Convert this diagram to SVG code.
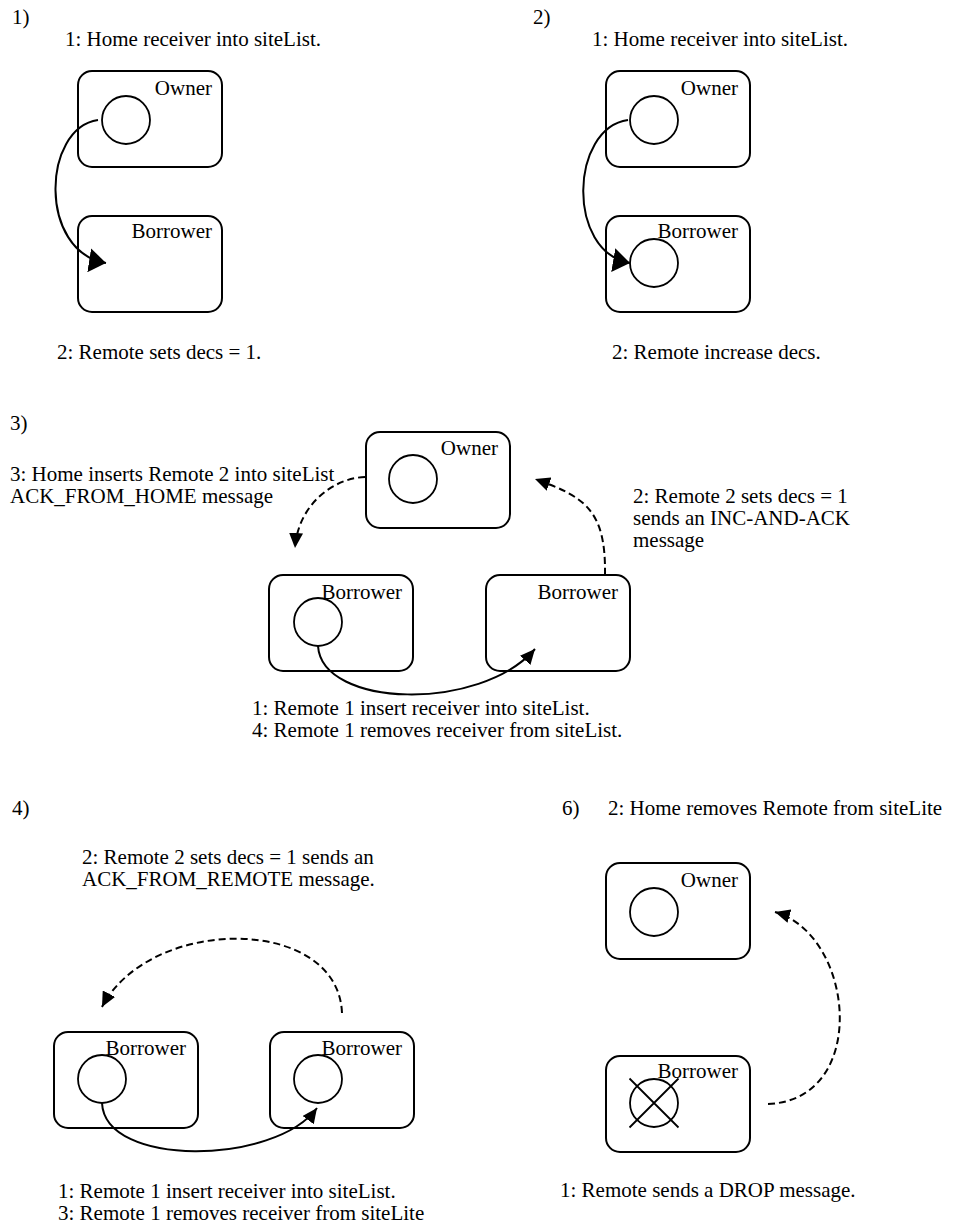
<svg xmlns="http://www.w3.org/2000/svg" width="953" height="1230" viewBox="0 0 953 1230">
  <style>
    text { font-family: "Liberation Serif", "Times New Roman", serif; font-size: 21px; fill: #000; }
    .lbl { text-anchor: end; }
    .box { fill: none; stroke: #000; stroke-width: 2; }
    .obj { fill: none; stroke: #000; stroke-width: 1.8; }
    .solid { fill: none; stroke: #000; stroke-width: 2; }
    .dash { fill: none; stroke: #000; stroke-width: 2; stroke-dasharray: 7 4; }
  </style>
  <defs>
    <marker id="bigHead" markerUnits="userSpaceOnUse" viewBox="0 -12 17 24" refX="17" refY="0" markerWidth="17" markerHeight="24" orient="auto">
      <path d="M0,-12 L17,0 L0,12 z" fill="#000"/>
    </marker>
    <marker id="head" markerUnits="userSpaceOnUse" viewBox="0 -7 15 14" refX="15" refY="0" markerWidth="15" markerHeight="14" orient="auto">
      <path d="M0,-7 L15,0 L0,7 z" fill="#000"/>
    </marker>
  </defs>
  <rect width="953" height="1230" fill="#fff"/>

  <!-- step numbers and captions -->
  <g id="captions">
    <text x="12" y="24">1)</text>
    <text x="65" y="46">1: Home receiver into siteList.</text>
    <text x="57" y="359">2: Remote sets decs = 1.</text>

    <text x="533" y="24">2)</text>
    <text x="592" y="46">1: Home receiver into siteList.</text>
    <text x="612" y="359">2: Remote increase decs.</text>

    <text x="10" y="430">3)</text>
    <text x="10" y="481">3: Home inserts Remote 2 into siteList</text>
    <text x="10" y="503">ACK_FROM_HOME message</text>
    <text x="633" y="503">2: Remote 2 sets decs = 1</text>
    <text x="633" y="525">sends an INC-AND-ACK</text>
    <text x="633" y="547">message</text>
    <text x="252" y="715">1: Remote 1 insert receiver into siteList.</text>
    <text x="252" y="737">4: Remote 1 removes receiver from siteList.</text>

    <text x="12" y="815">4)</text>
    <text x="82" y="864">2: Remote 2 sets decs = 1 sends an</text>
    <text x="82" y="886">ACK_FROM_REMOTE message.</text>
    <text x="58" y="1198">1: Remote 1 insert receiver into siteList.</text>
    <text x="58" y="1220">3: Remote 1 removes receiver from siteLite</text>

    <text x="562" y="815">6)</text>
    <text x="608" y="815">2: Home removes Remote from siteLite</text>
    <text x="560" y="1197">1: Remote sends a DROP message.</text>
  </g>

  <!-- panel 1 -->
  <g id="p1-owner">
    <rect class="box" x="78" y="71" width="144" height="96" rx="14"/>
    <text class="lbl" x="212" y="95">Owner</text>
    <circle class="obj" cx="126" cy="120" r="24"/>
  </g>
  <g id="p1-borrower">
    <rect class="box" x="78" y="216" width="144" height="96" rx="14"/>
    <text class="lbl" x="212" y="238">Borrower</text>
  </g>

  <!-- panel 2 -->
  <g id="p2-owner">
    <rect class="box" x="606" y="71" width="144" height="96" rx="14"/>
    <text class="lbl" x="738" y="95">Owner</text>
    <circle class="obj" cx="654" cy="120" r="24"/>
  </g>
  <g id="p2-borrower">
    <rect class="box" x="606" y="216" width="144" height="96" rx="14"/>
    <circle class="obj" cx="654" cy="263" r="24"/>
    <text class="lbl" x="738" y="238">Borrower</text>
  </g>

  <!-- panel 3 -->
  <g id="p3-owner">
    <rect class="box" x="366" y="432" width="144" height="96" rx="14"/>
    <text class="lbl" x="498" y="455">Owner</text>
    <circle class="obj" cx="413" cy="479" r="24"/>
  </g>
  <g id="p3-borrower1">
    <rect class="box" x="269" y="575" width="144" height="96" rx="14"/>
    <circle class="obj" cx="318" cy="622" r="24"/>
    <text class="lbl" x="402" y="599">Borrower</text>
  </g>
  <g id="p3-borrower2">
    <rect class="box" x="486" y="575" width="144" height="96" rx="14"/>
    <text class="lbl" x="618" y="599">Borrower</text>
  </g>

  <!-- panel 4 -->
  <g id="p4-borrower1">
    <rect class="box" x="54" y="1032" width="144" height="96" rx="14"/>
    <circle class="obj" cx="102" cy="1079" r="24"/>
    <text class="lbl" x="186" y="1055">Borrower</text>
  </g>
  <g id="p4-borrower2">
    <rect class="box" x="270" y="1032" width="144" height="96" rx="14"/>
    <circle class="obj" cx="318" cy="1079" r="24"/>
    <text class="lbl" x="402" y="1055">Borrower</text>
  </g>

  <!-- panel 6 -->
  <g id="p6-owner">
    <rect class="box" x="606" y="863" width="144" height="96" rx="14"/>
    <text class="lbl" x="738" y="887">Owner</text>
    <circle class="obj" cx="654" cy="912" r="24"/>
  </g>
  <g id="p6-borrower">
    <rect class="box" x="606" y="1056" width="144" height="96" rx="14"/>
    <circle class="obj" cx="654" cy="1103" r="24"/>
    <path class="obj" d="M629.5,1078.5 L678.5,1127.5 M629.5,1127.5 L678.5,1078.5"/>
    <text class="lbl" x="738" y="1078">Borrower</text>
  </g>

  <!-- connectors -->
  <g id="connectors">
    <path class="solid" d="M98,120 C42,128 38,252 106,263" marker-end="url(#bigHead)"/>
    <path class="solid" d="M628,120 C570,128 566,252 630,263" marker-end="url(#bigHead)"/>

    <path class="solid" d="M318,646 C322,708 480,712 535,649" marker-end="url(#head)"/>
    <path class="dash" d="M365,477 C333,478 298,505 295,548" marker-end="url(#head)"/>
    <path class="dash" d="M605,575 C606,510 585,497 535,479" marker-end="url(#head)"/>

    <path class="dash" d="M342,1013 C338,915 150,915 102,1007" marker-end="url(#head)"/>
    <path class="solid" d="M102,1103 C105,1168 275,1165 317,1108" marker-end="url(#head)"/>

    <path class="dash" d="M768,1104 C870,1100 855,935 775,912" marker-end="url(#head)"/>
  </g>
</svg>
